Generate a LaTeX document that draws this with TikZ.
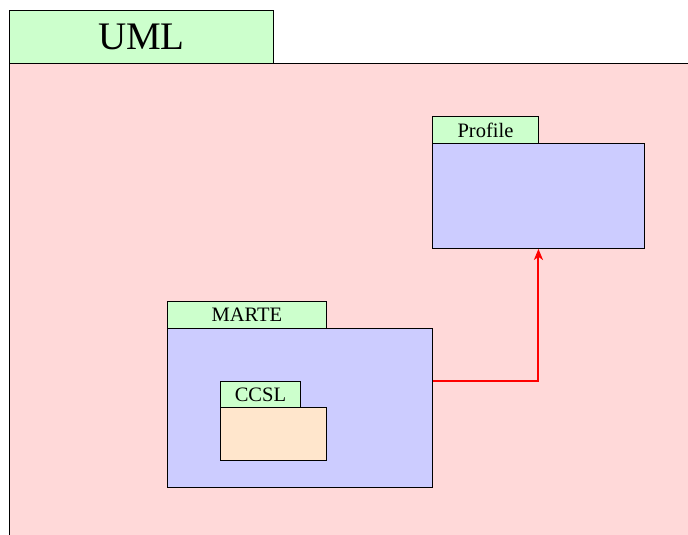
\documentclass[tikz,border=0pt]{standalone}
\usepackage{fontspec}
\setmainfont{Liberation Serif}
\usetikzlibrary{arrows.meta,calc}
\definecolor{tabgreen}{RGB}{204,255,204}
\definecolor{umlpink}{RGB}{255,217,217}
\definecolor{pkgblue}{RGB}{204,204,255}
\definecolor{ccslpeach}{RGB}{255,230,204}
\tikzset{
  box/.style={draw=black, line width=0.9pt, inner sep=0pt, anchor=north west},
  tabbox/.style={box, fill=tabgreen, font=\fontsize{20.5}{22}\selectfont},
}
\begin{document}
\begin{tikzpicture}[x=1pt,y=-1pt]
\useasboundingbox (0,0) rectangle (688,535);
% UML
\node[box, fill=umlpink, minimum width=720pt, minimum height=520pt] (umlbody) at (9,63) {};
\node[tabbox, minimum width=264pt, minimum height=53pt, font=\fontsize{39}{42}\selectfont] (umltab) at (9,10) {UML};
% Profile
\node[box, fill=pkgblue, minimum width=212pt, minimum height=105pt] (pbody) at (432,143) {};
\node[tabbox, minimum width=106pt, minimum height=27pt] (ptab) at (432,116) {Profile};
% MARTE
\node[box, fill=pkgblue, minimum width=265pt, minimum height=159pt] (mbody) at (167,328) {};
\node[tabbox, minimum width=159pt, minimum height=27pt] (mtab) at (167,301) {MARTE};
% CCSL
\node[box, fill=ccslpeach, minimum width=106pt, minimum height=53pt] (cbody) at (220,407) {};
\node[tabbox, minimum width=80pt, minimum height=26pt] (ctab) at (220,381) {CCSL};
% arrow
\coordinate (mout) at ($(mbody.north east)!0.333!(mbody.south east)$);
\draw[red, line width=2pt, -{Stealth[length=11pt,width=9pt,inset=3pt]}] (mout) -| (pbody.south);
\end{tikzpicture}
\end{document}
